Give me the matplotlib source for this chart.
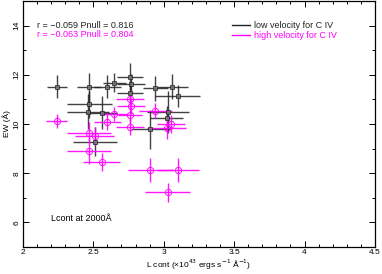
import numpy as np
import matplotlib
matplotlib.use("Agg")
import matplotlib.pyplot as plt
from matplotlib.lines import Line2D
from matplotlib.ticker import MultipleLocator

# === Data ===
low_x = [2.24, 2.47, 2.60, 2.65, 2.76, 2.77, 2.76, 2.94, 3.06, 3.10,
         2.47, 2.46, 2.56, 3.03, 3.02, 2.905, 2.51]
low_y = [11.52, 11.49, 11.52, 11.68, 11.92, 11.63, 11.27, 11.45, 11.52, 11.14,
         10.81, 10.50, 10.46, 10.50, 10.23, 9.78, 9.28]
low_xerr = [0.071, 0.088, 0.095, 0.08, 0.095, 0.10, 0.09, 0.09, 0.11, 0.16,
            0.16, 0.15, 0.11, 0.15, 0.12, 0.14, 0.155]
low_yerr = [0.46, 0.58, 0.47, 0.40, 0.55, 0.40, 0.35, 0.50, 0.50, 0.45,
            0.55, 0.70, 0.68, 0.85, 0.50, 0.80, 0.60]

high_x = [2.24, 2.76, 2.77, 2.65, 2.76, 2.94, 2.60, 2.76, 3.05, 3.02,
          2.47, 2.51, 2.47, 2.56, 2.905, 3.10, 3.03]
high_y = [10.12, 11.00, 10.73, 10.41, 10.37, 10.54, 10.09, 9.89, 10.00, 9.85,
          9.65, 9.51, 8.91, 8.47, 8.13, 8.13, 7.22]
high_xerr = [0.075, 0.10, 0.10, 0.095, 0.083, 0.116, 0.095, 0.10, 0.10, 0.14,
             0.155, 0.14, 0.155, 0.13, 0.16, 0.15, 0.16]
high_yerr = [0.30, 0.30, 0.34, 0.27, 0.34, 0.30, 0.34, 0.34, 0.37, 0.44,
             0.44, 0.37, 0.54, 0.37, 0.47, 0.47, 0.40]

stats_low = "r = \u22120.059 Pnull = 0.816"
stats_high = "r = \u22120.063 Pnull = 0.804"
labels = ["low velocity for C IV", "high velocity for C IV"]
colors = ["#222222", "#ff00ff"]

plt.rcParams["font.family"] = ["Liberation Sans", "DejaVu Sans"]
plt.rcParams["font.size"] = 6.5

fig = plt.figure(figsize=(3.82, 2.74), dpi=100)
ax = fig.add_axes([0.060, 0.0985, 0.9215, 0.898])

ax.errorbar(low_x, low_y, xerr=low_xerr, yerr=low_yerr, fmt="s", ms=3.2,
            mfc="#777777", mec=colors[0], mew=0.6, ecolor=colors[0],
            elinewidth=1.0, capsize=0, alpha=0.85)
ax.errorbar(high_x, high_y, xerr=high_xerr, yerr=high_yerr, fmt="o", ms=4.5,
            mfc="none", mec=colors[1], mew=0.7, ecolor=colors[1],
            elinewidth=1.0, capsize=0, alpha=0.9)

ax.set_xlim(2, 4.5)
ax.set_ylim(5, 15)
ax.xaxis.set_major_locator(MultipleLocator(0.5))
ax.xaxis.set_minor_locator(MultipleLocator(0.1))
ax.yaxis.set_major_locator(MultipleLocator(2))
ax.yaxis.set_minor_locator(MultipleLocator(1))
ax.set_xticks([2, 2.5, 3, 3.5, 4, 4.5])
ax.set_xticklabels(["2", "2.5", "3", "3.5", "4", "4.5"])
ax.tick_params(which="both", direction="in", top=True, right=True, width=0.7,
               labelsize=6)
ax.tick_params(which="major", length=4, pad=1.5)
ax.tick_params(which="minor", length=2)
for lab in ax.get_yticklabels():
    lab.set_rotation(90)
    lab.set_va("center")
for sp in ax.spines.values():
    sp.set_linewidth(0.9)

ax.set_xlabel("L cont (\u00d710$^{43}$ ergs s$^{-1}$ \u00c5$^{-1}$)", va="center",
              fontsize=6)
ax.xaxis.set_label_coords(0.5, -0.072)
ax.set_ylabel("EW (\u00c5)", va="center", fontsize=6)
ax.yaxis.set_label_coords(-0.047, 0.5)

ax.text(2.1, 14.02, stats_low, color=colors[0], va="center")
ax.text(2.1, 13.63, stats_high, color=colors[1], va="center")
ax.text(2.2, 6.15, "Lcont at 2000\u00c5", color="black", va="center")

handles = [Line2D([], [], color=c, lw=1.0) for c in colors]
ax.legend(handles, labels, loc="upper left", bbox_to_anchor=(0.575, 0.945),
          frameon=False, handlelength=2.0, handletextpad=0.5,
          labelspacing=0.15, labelcolor=colors, fontsize=6.5,
          borderpad=0.2)

fig.savefig("out.png", dpi=100)
